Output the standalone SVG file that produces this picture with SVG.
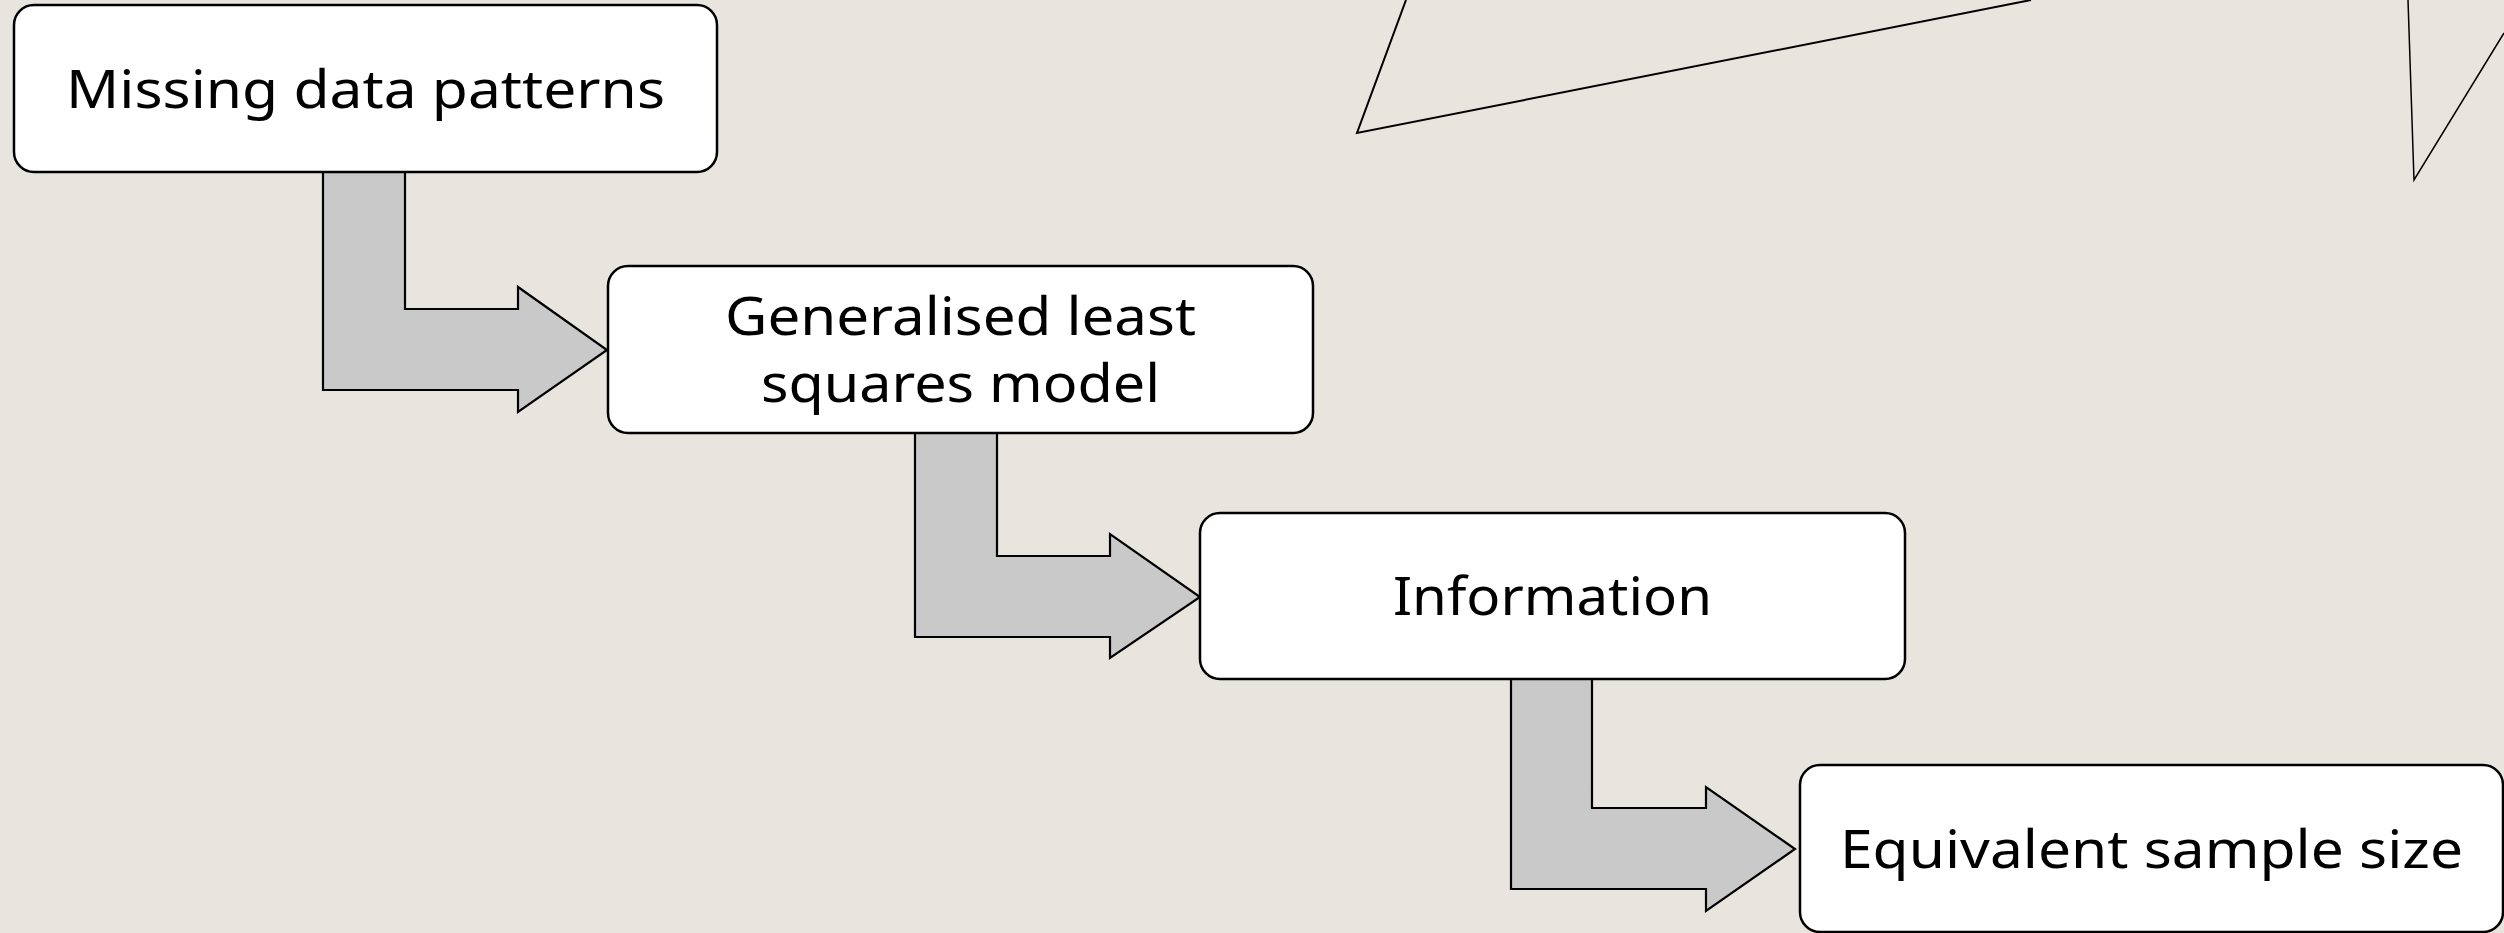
<svg xmlns="http://www.w3.org/2000/svg" width="2504" height="933" viewBox="0 0 2504 933">
<style>
.bg{fill:#E8E5DF}
.box{fill:#FFFFFF;stroke:#000000;stroke-width:2.5}
.arrow{fill:#C9C9C9;stroke:#000000;stroke-width:2.2;stroke-linejoin:miter}
.deco{fill:none;stroke:#000000}
.lbl{font-family:"Noto Sans","Liberation Sans",sans-serif;font-size:53px;fill:#000000;text-anchor:middle}
</style>
<rect class="bg" x="0" y="0" width="2504" height="933"/>
<g id="decor">
<polyline class="deco" stroke-width="2" points="1406,0 1357,133 2031,0"/>
<polyline class="deco" stroke-width="1.5" points="2408,0 2414,180 2504,33"/>
</g>
<g id="connectors">
<polygon class="arrow" points="323,172 405,172 405,309 518,309 518,287 607,350 518,412 518,390 323,390"/>
<polygon class="arrow" points="915,433 997,433 997,556 1110,556 1110,534 1200,597 1110,658 1110,637 915,637"/>
<polygon class="arrow" points="1511,679 1592,679 1592,808 1706,808 1706,787 1795,849 1706,911 1706,889 1511,889"/>
</g>
<g id="node1">
<rect class="box" x="14" y="5" width="703" height="167" rx="20"/>
<text class="lbl" x="365.5" y="107.5" textLength="599" lengthAdjust="spacingAndGlyphs">Missing data patterns</text>
</g>
<g id="node2">
<rect class="box" x="608" y="266" width="705" height="167" rx="20"/>
<text class="lbl" x="960.5" y="335" textLength="471" lengthAdjust="spacingAndGlyphs">Generalised least</text>
<text class="lbl" x="960.5" y="402" textLength="399" lengthAdjust="spacingAndGlyphs">squares model</text>
</g>
<g id="node3">
<rect class="box" x="1200" y="513" width="705" height="166" rx="20"/>
<text class="lbl" x="1552.5" y="615" textLength="319" lengthAdjust="spacingAndGlyphs">Information</text>
</g>
<g id="node4">
<rect class="box" x="1800" y="765" width="703" height="167" rx="20"/>
<text class="lbl" x="2151.5" y="868" textLength="623" lengthAdjust="spacingAndGlyphs">Equivalent sample size</text>
</g>
</svg>
